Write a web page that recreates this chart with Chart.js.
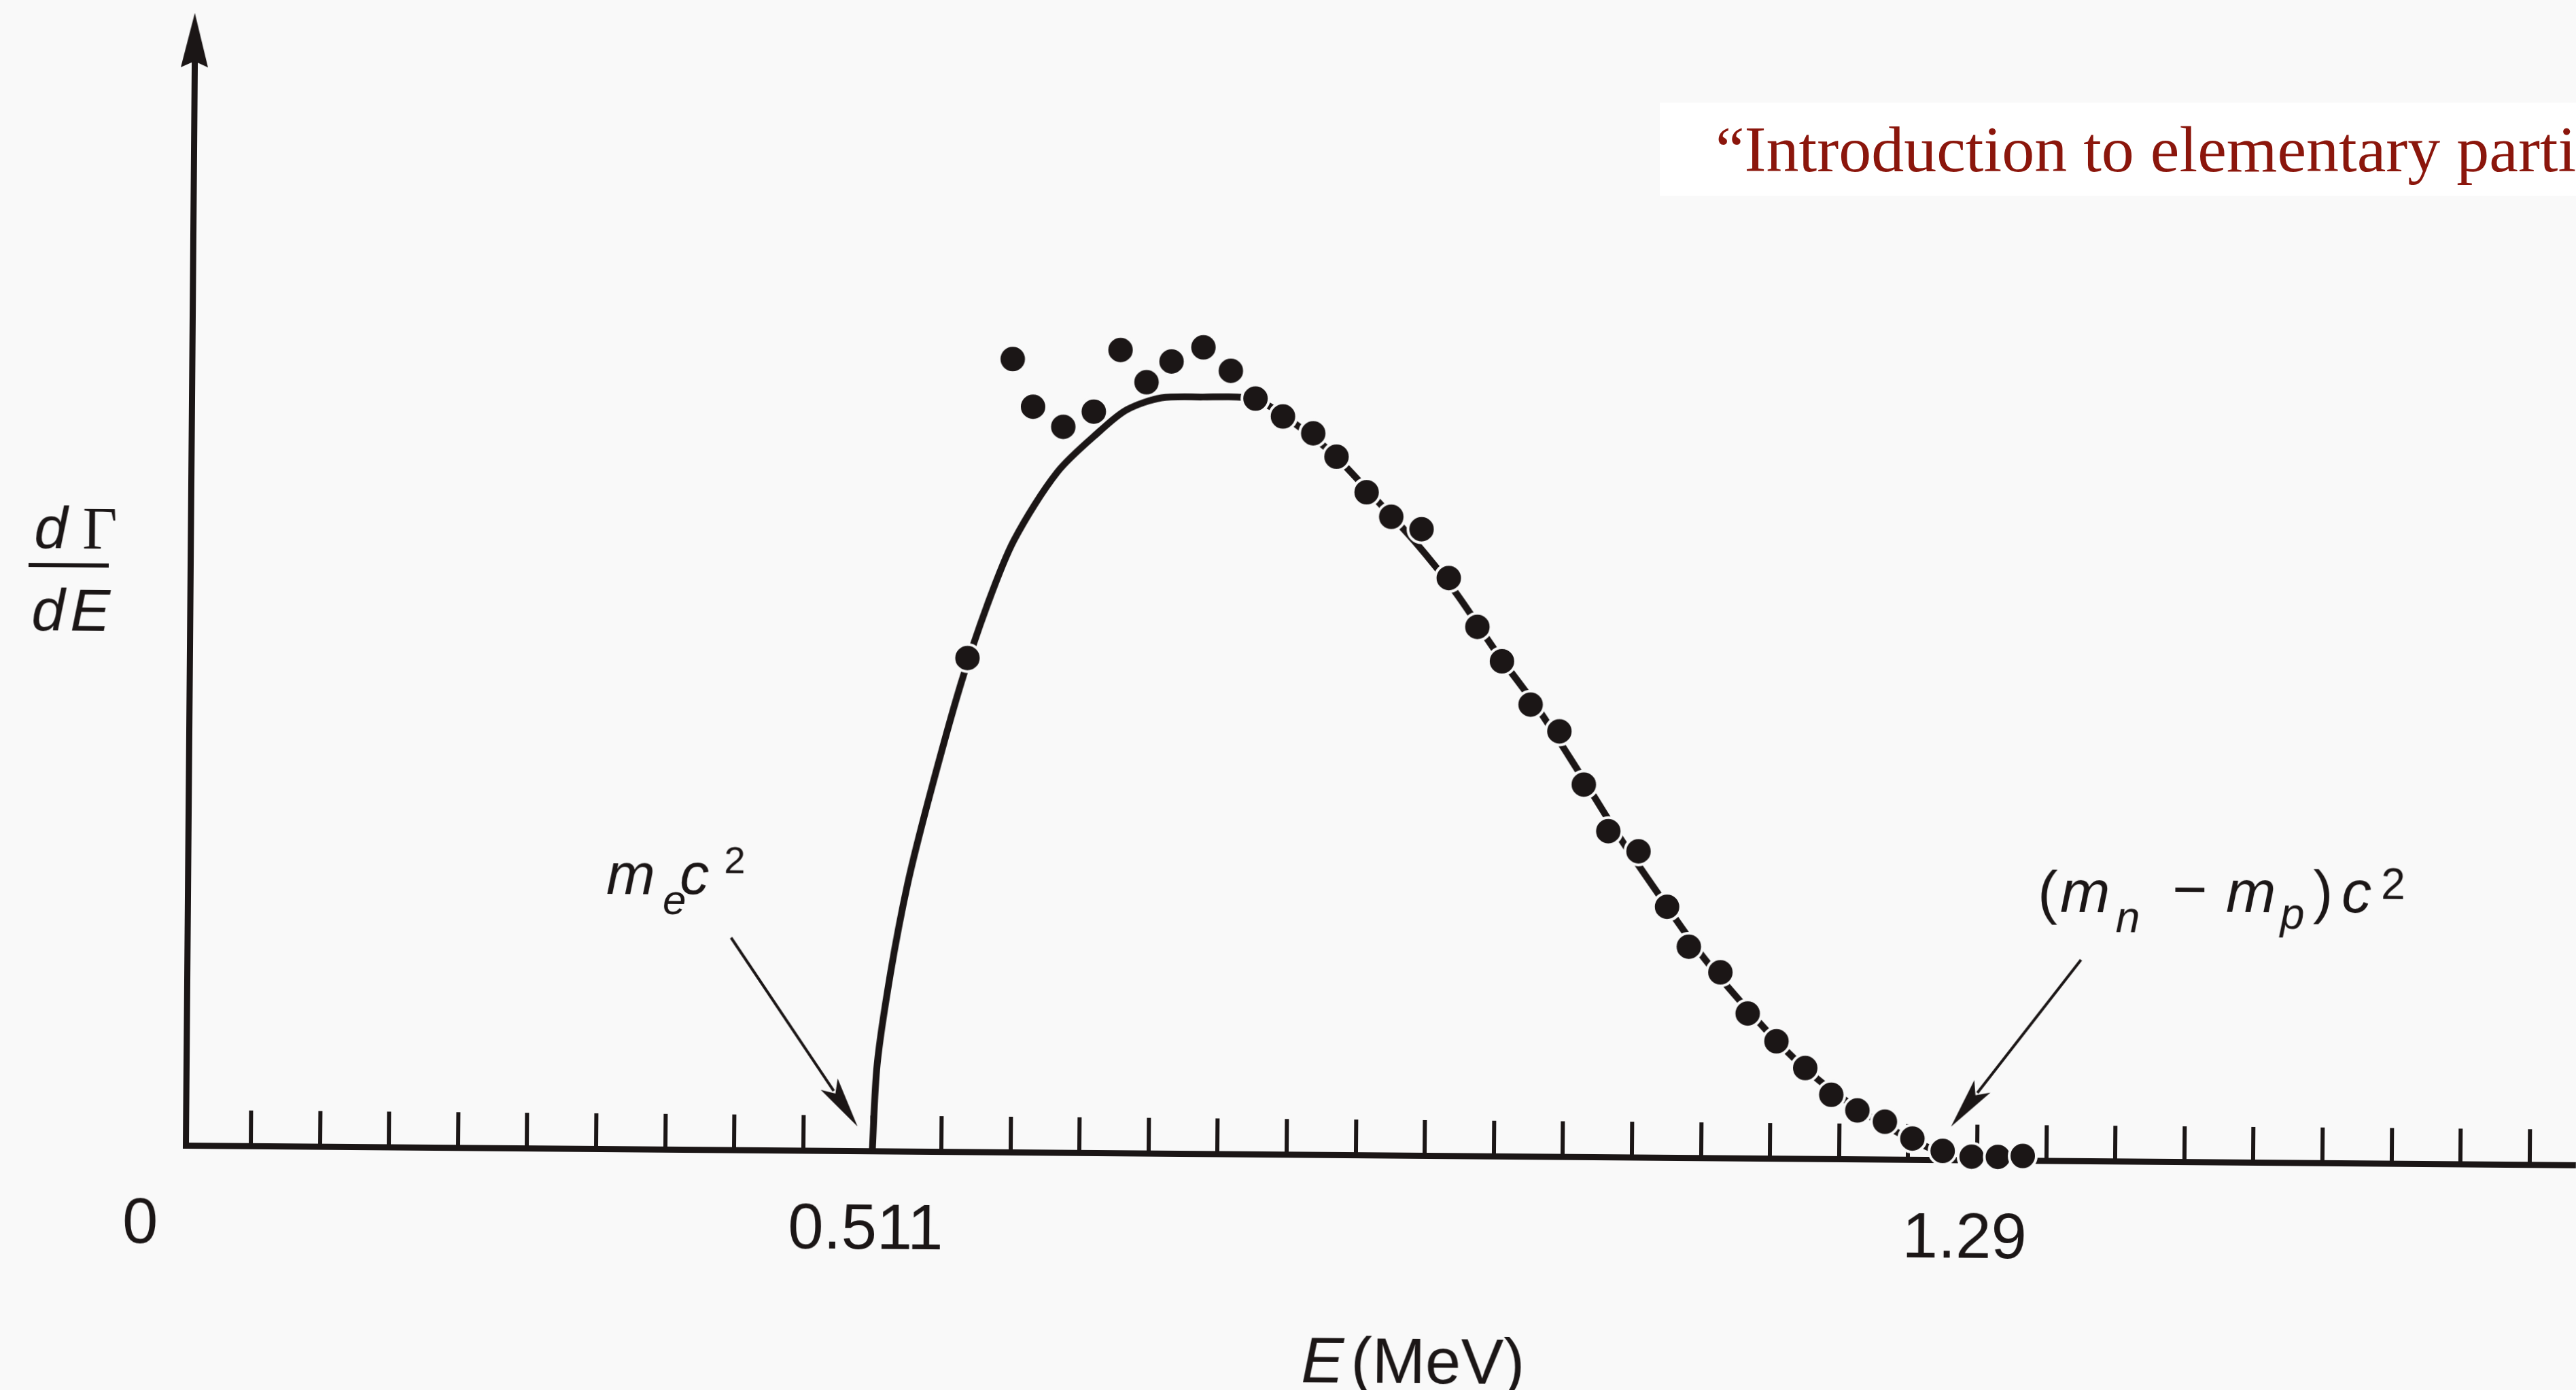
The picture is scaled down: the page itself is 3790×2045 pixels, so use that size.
<!DOCTYPE html>
<html>
<head>
<meta charset="utf-8">
<script src="https://cdn.jsdelivr.net/npm/chart.js@4.4.1/dist/chart.umd.min.js"></script>
<style>
  html, body { margin: 0; padding: 0; width: 3790px; height: 2045px; overflow: hidden; background: #f9f9f9; }
  #c { position: absolute; left: 0; top: 0; transform-origin: 273px 1685px; transform: rotate(0.47deg); }
  #src { position: absolute; left: 2442px; top: 151px; width: 1400px; height: 137px; background: #ffffff;
         color: #8b160c; font-family: "Liberation Serif", "Times New Roman", serif; font-size: 96px;
         line-height: 137px; padding-left: 82px; box-sizing: border-box; white-space: nowrap; overflow: hidden; }
</style>
</head>
<body>
<canvas id="c" width="3790" height="2045"></canvas>
<div id="src">“Introduction to elementary particles”</div>
<script>
// ---------- data ----------
// measured spectrum: energy (MeV) and dΓ/dE (arbitrary units)
const DOT_E = [0.577, 0.608, 0.623, 0.645, 0.667, 0.686, 0.705, 0.723, 0.746, 0.766,
               0.784, 0.804, 0.826, 0.843, 0.865, 0.883, 0.905, 0.925, 0.946, 0.964,
               0.985, 1.006, 1.024, 1.042, 1.064, 1.085, 1.101, 1.124, 1.144, 1.165,
               1.186, 1.205, 1.224, 1.244, 1.264, 1.286, 1.307, 1.326, 1.344];
const DOT_RATE = [44.7, 71.8, 67.5, 65.7, 67.1, 72.7, 69.8, 71.7, 73.0, 70.9,
                  68.4, 66.8, 65.3, 63.2, 60.0, 57.8, 56.7, 52.3, 47.9, 44.8,
                  40.9, 38.5, 33.7, 29.5, 27.7, 22.7, 19.1, 16.8, 13.1, 10.6,
                  8.2, 5.8, 4.4, 3.4, 1.9, 0.8, 0.3, 0.3, 0.4];
// theoretical curve
const CURVE_E = [0.511, 0.514, 0.523, 0.535, 0.550, 0.572, 0.591, 0.610, 0.641,
                 0.672, 0.691, 0.716, 0.746, 0.775, 0.790, 0.810, 0.840, 0.870, 0.900,
                 0.930, 0.960, 0.990, 1.020, 1.050, 1.080, 1.110, 1.140, 1.170, 1.200,
                 1.230, 1.260, 1.290];
const CURVE_RATE = [0, 7.8, 16.0, 24.2, 32.0, 42.2, 49.5, 55.4, 61.6,
                    65.4, 67.3, 68.4, 68.5, 68.5, 68.0, 66.4, 63.5, 59.6, 55.6,
                    51.0, 45.6, 40.6, 34.9, 29.0, 23.6, 18.4, 14.0, 10.0, 6.7,
                    4.1, 2.0, 0.3];
// x-axis tick marks (MeV) and labelled values
const TICK_E = [0.061, 0.111, 0.161, 0.211, 0.261, 0.311, 0.361, 0.411, 0.461, 0.511,
                0.561, 0.611, 0.661, 0.711, 0.761, 0.811, 0.861, 0.911, 0.961, 1.011,
                1.061, 1.111, 1.161, 1.211, 1.261, 1.311, 1.361, 1.411, 1.461, 1.511,
                1.561, 1.611, 1.661, 1.711];
const LABEL_E = [0, 0.511, 1.29];
const LABEL_TEXT = ['0', '0.511', '1.29'];
const X_RANGE = [0.01376, 1.74456];
const Y_RANGE = [0, 100];
// annotation arrows (data units): [from E, from rate, to E, to rate]
const ARROW_ME = [0.4075, 19.2, 0.5002, 2.2];
const ARROW_MNP = [1.385, 18.2, 1.2919, 3.0];

// ---------- styling ----------
const BG = '#f9f9f9';
const INK = '#1b1616';
const SANS = '"Liberation Sans", Arial, Helvetica, sans-serif';
const SERIF = '"Liberation Serif", "Times New Roman", serif';
const LABEL_SHIFT = [-38, -9, 25];

function arrowHead(ctx, x1, y1, x2, y2, len, half, lw) {
  const a = Math.atan2(y2 - y1, x2 - x1), c = Math.cos(a), s = Math.sin(a);
  const bx = x2 - len * c, by = y2 - len * s;
  ctx.lineWidth = lw;
  ctx.beginPath(); ctx.moveTo(x1, y1); ctx.lineTo(bx + 12 * c, by + 12 * s); ctx.stroke();
  ctx.beginPath();
  ctx.moveTo(x2, y2);
  ctx.lineTo(bx - half * s, by + half * c);
  ctx.lineTo(bx + 0.22 * len * c, by + 0.22 * len * s);
  ctx.lineTo(bx + half * s, by - half * c);
  ctx.closePath(); ctx.fill();
}
function txt(ctx, s, x, y, font) { ctx.font = font; ctx.fillText(s, x, y); }

const annot = {
  id: 'annot',
  afterDraw(chart) {
    const { ctx, chartArea: a, scales: { x, y } } = chart;
    ctx.save();
    ctx.fillStyle = INK; ctx.strokeStyle = INK; ctx.textBaseline = 'alphabetic';
    // y-axis arrow head
    ctx.beginPath();
    ctx.moveTo(a.left, 19); ctx.lineTo(a.left - 20, 99); ctx.lineTo(a.left, 90); ctx.lineTo(a.left + 20, 99);
    ctx.closePath(); ctx.fill();
    // tick labels
    ctx.textAlign = 'center';
    LABEL_E.forEach((v, i) => txt(ctx, LABEL_TEXT[i], x.getPixelForValue(v) + LABEL_SHIFT[i], 1829, `94px ${SANS}`));
    // axis title E (MeV)
    ctx.textAlign = 'left';
    txt(ctx, 'E', 1917, 2020, `italic 94px ${SANS}`);
    txt(ctx, '(MeV)', 1990, 2020, `94px ${SANS}`);
    // y label dΓ/dE
    txt(ctx, 'd', 43, 808, `italic 88px ${SANS}`);
    txt(ctx, 'Γ', 114, 808, `88px ${SERIF}`);
    ctx.lineWidth = 6; ctx.beginPath(); ctx.moveTo(35, 833); ctx.lineTo(153, 833); ctx.stroke();
    txt(ctx, 'd', 40, 929, `italic 88px ${SANS}`);
    txt(ctx, 'E', 97, 929, `italic 88px ${SANS}`);
    // m_e c^2
    txt(ctx, 'm', 889, 1310, `italic 86px ${SANS}`);
    txt(ctx, 'e', 972, 1339, `italic 62px ${SANS}`);
    txt(ctx, 'c', 997, 1309, `italic 86px ${SANS}`);
    txt(ctx, '2', 1062, 1278, `56px ${SANS}`);
    // (m_n - m_p) c^2
    txt(ctx, '(', 2995, 1320, `88px ${SANS}`);
    txt(ctx, 'm', 3028, 1319, `italic 88px ${SANS}`);
    txt(ctx, 'n', 3110, 1348, `italic 64px ${SANS}`);
    txt(ctx, '−', 3193, 1314, `88px ${SANS}`);
    txt(ctx, 'm', 3272, 1317, `italic 88px ${SANS}`);
    txt(ctx, 'p', 3352, 1341, `italic 64px ${SANS}`);
    txt(ctx, ')', 3400, 1316, `88px ${SANS}`);
    txt(ctx, 'c', 3442, 1316, `italic 88px ${SANS}`);
    txt(ctx, '2', 3500, 1296, `64px ${SANS}`);
    // arrows
    [ARROW_ME, ARROW_MNP].forEach(r => {
      arrowHead(ctx, x.getPixelForValue(r[0]), y.getPixelForValue(r[1]),
                x.getPixelForValue(r[2]), y.getPixelForValue(r[3]), 75, 15, 4);
    });
    ctx.restore();
  }
};

new Chart(document.getElementById('c'), {
  type: 'scatter',
  data: {
    datasets: [
      {
        label: 'measured',
        data: DOT_E.map((e, i) => ({ x: e, y: DOT_RATE[i] })),
        showLine: false,
        pointRadius: 20,
        pointBackgroundColor: INK,
        pointBorderColor: BG,
        pointBorderWidth: 4,
        order: 0,
        clip: false
      },
      {
        label: 'theory',
        data: CURVE_E.map((e, i) => ({ x: e, y: CURVE_RATE[i] })),
        showLine: true,
        borderColor: INK,
        borderWidth: 10,
        pointRadius: 0,
        tension: 0.3,
        borderJoinStyle: 'round',
        fill: false,
        order: 1,
        clip: false
      }
    ]
  },
  options: {
    responsive: false,
    animation: false,
    devicePixelRatio: 1,
    events: [],
    layout: { autoPadding: false, padding: { left: 273, right: 0, top: 60, bottom: 360 } },
    plugins: { legend: { display: false }, tooltip: { enabled: false } },
    scales: {
      x: {
        type: 'linear', position: 'bottom', min: X_RANGE[0], max: X_RANGE[1],
        afterBuildTicks: s => { s.ticks = TICK_E.map(v => ({ value: v })); },
        afterFit: s => { s.height = 0; },
        ticks: { display: false },
        grid: { display: true, drawOnChartArea: false, drawTicks: true, tickLength: -52,
                tickWidth: 6, tickColor: INK, color: INK, lineWidth: 6 },
        border: { display: true, color: INK, width: 9 }
      },
      y: {
        type: 'linear', position: 'left', min: Y_RANGE[0], max: Y_RANGE[1],
        afterFit: s => { s.width = 0; },
        ticks: { display: false },
        grid: { display: false },
        border: { display: true, color: INK, width: 9 }
      }
    }
  },
  plugins: [annot]
});
</script>
</body>
</html>
